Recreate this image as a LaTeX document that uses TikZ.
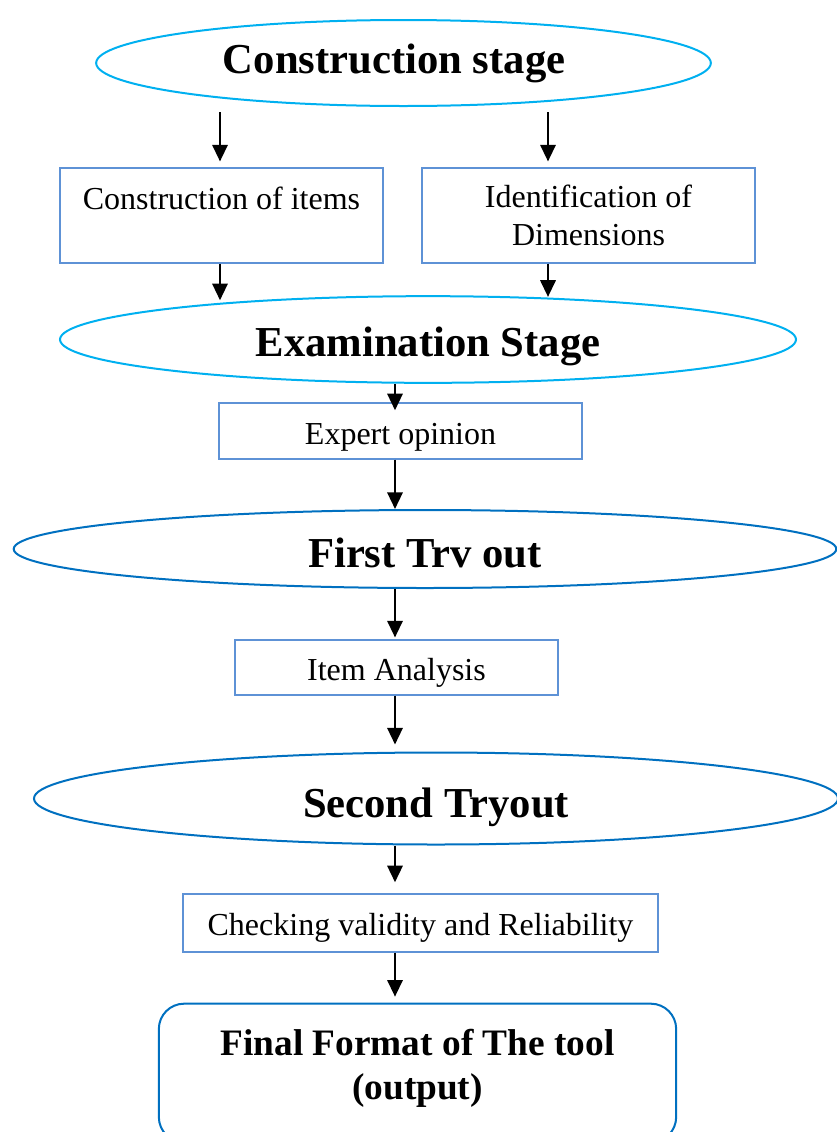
\documentclass[tikz,border=0pt]{standalone}
\usepackage{fontspec}
\setmainfont{Liberation Serif}
\usetikzlibrary{shapes.geometric,arrows.meta,positioning}
\definecolor{lcyan}{HTML}{00B0F0}
\definecolor{dblue}{HTML}{0070C0}
\definecolor{rblue}{HTML}{5E92D6}
\newcommand{\dn}[2]{\raisebox{-#1}[0pt][0pt]{#2}}
\tikzset{
  ell/.style={ellipse, draw=#1, line width=1.5pt, inner sep=0pt, font=\fontsize{32}{38}\selectfont\bfseries},
  box/.style={rectangle, draw=rblue, line width=1.1pt, inner sep=0pt, align=center, font=\fontsize{24}{28}\selectfont},
  fin/.style={rectangle, rounded corners=19pt, draw=dblue, line width=1.5pt, inner sep=0pt, font=\fontsize{28}{33}\selectfont\bfseries},
  arr/.style={line width=1.7pt, -{Triangle[width=11.5pt,length=12.5pt]}}
}
\begin{document}
\begin{tikzpicture}[x=0.75pt,y=-0.75pt]
\useasboundingbox (0,0) rectangle (836,1132);
% ellipses
\node[ell=lcyan, minimum width=461pt, minimum height=64.5pt] (e1) at (403.5,63) {\dn{7.5pt}{Construction stage}\kern14pt\relax};
\node[ell=lcyan, minimum width=552pt, minimum height=65pt] (e2) at (428,339.5) {\dn{13.1pt}{Examination Stage}};
\node[ell=dblue, minimum width=617pt, minimum height=58.5pt] (e3) at (425,549) {\dn{13.5pt}{First Trv out}};
\node[ell=dblue, minimum width=603pt, minimum height=69pt] (e4) at (436,798.5) {\dn{14.2pt}{Second Tryout}};
% boxes
\node[box, minimum width=242pt, minimum height=71pt] (r1) at (221.5,215.5) {\raisebox{-1.5pt}{Construction of items}\\[0pt]\mbox{}};
\node[box, minimum width=249.5pt, minimum height=71pt] (r2) at (588.5,215.5) {Identification of\\Dimensions};
\node[box, minimum width=272pt, minimum height=42pt] (r3) at (400.5,431) {\dn{10pt}{Expert opinion}};
\node[box, minimum width=242pt, minimum height=41pt] (r4) at (396.5,667.5) {\dn{9.4pt}{Item Analysis}};
\node[box, minimum width=356pt, minimum height=43.5pt] (r5) at (420.5,923) {\dn{9.3pt}{Checking validity and Reliability}};
\node[fin, minimum width=388pt, minimum height=104pt] (r6) at (417.5,1073) {\raisebox{13.5pt}[0pt][0pt]{\begin{tabular}[t]{@{}c@{}}Final Format of The tool\\(output)\end{tabular}}};
% arrows
\draw[arr] ([yshift=41.25pt]r1.north -| 220,0) -- ([yshift=4.5pt]r1.north -| 220,0);
\draw[arr] ([yshift=41.25pt]r2.north -| 548,0) -- ([yshift=4.5pt]r2.north -| 548,0);
\draw[arr] (r1.south -| 220,0) -- ([yshift=-27.5pt]r1.south -| 220,0);
\draw[arr] (r2.south -| 548,0) -- ([yshift=-25pt]r2.south -| 548,0);
\draw[arr] (e2.south -| 395,0) -- ([yshift=-6pt]r3.north -| 395,0);
\draw[arr] (r3.south -| 395,0) -- (e3.north -| 395,0);
\draw[arr] (e3.south -| 395,0) -- ([yshift=1.5pt]r4.north -| 395,0);
\draw[arr] (r4.south -| 395,0) -- ([yshift=5.25pt]e4.north -| 395,0);
\draw[arr] (e4.south -| 395,0) -- ([yshift=8.25pt]r5.north -| 395,0);
\draw[arr] (r5.south -| 395,0) -- ([yshift=4.5pt]r6.north -| 395,0);
\end{tikzpicture}
\end{document}
